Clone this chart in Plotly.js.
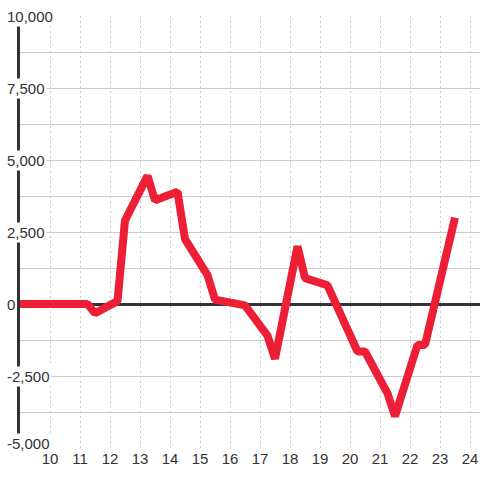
<!DOCTYPE html>
<html>
<head>
<meta charset="utf-8">
<script src="https://cdn.plot.ly/plotly-3.0.1.min.js"></script>
<style>
html,body{margin:0;padding:0;background:#fff;}
#chart{width:480px;height:480px;}
#chart .scatterlayer path.js-line{stroke-linejoin:bevel !important;stroke-linecap:butt !important;}
</style>
</head>
<body>
<div id="chart"></div>
<script>
// Data
const xValues = [9, 11.25, 11.5, 12.25, 12.5, 13.25, 13.5, 14.25, 14.5, 15.25, 15.5, 16, 16.5, 17.25, 17.5, 18.25, 18.5, 19.25, 20.25, 20.5, 21.25, 21.5, 22.25, 22.5, 23.5];
const yValues = [0, 0, -320, 100, 2900, 4450, 3600, 3900, 2250, 1000, 150, 80, -50, -1100, -1900, 2000, 900, 650, -1650, -1650, -3100, -3900, -1420, -1420, 3000];
const xTickValues = [10, 11, 12, 13, 14, 15, 16, 17, 18, 19, 20, 21, 22, 23, 24];
const xTickLabels = ["10", "11", "12", "13", "14", "15", "16", "17", "18", "19", "20", "21", "22", "23", "24"];
const yGridValues = [-5000, -3750, -2500, -1250, 0, 1250, 2500, 3750, 5000, 6250, 7500, 8750, 10000];
const yLabelValues = [10000, 7500, 5000, 2500, 0, -2500, -5000];
const yLabelTexts = ["10,000", "7,500", "5,000", "2,500", "0", "-2,500", "-5,000"];

const textColor = "#333333";
const fontFamily = "Liberation Sans, Arial, sans-serif";

const annotations = yLabelValues.map((v, i) => ({
  x: 0, xref: "paper", xanchor: "left", xshift: -15,
  y: v, yref: "y", yanchor: "middle", yshift: (v === -5000 ? 5 : 0),
  text: yLabelTexts[i], showarrow: false,
  bgcolor: "#ffffff", borderpad: 1,
  font: {family: fontFamily, size: 15, color: textColor}
}));

const trace = {
  x: xValues, y: yValues, type: "scatter", mode: "lines",
  line: {color: "#ed1f37", width: 8},
  hoverinfo: "skip"
};

const layout = {
  width: 480, height: 480,
  margin: {l: 20, r: 0, t: 16, b: 32, pad: 0},
  paper_bgcolor: "#ffffff", plot_bgcolor: "#ffffff",
  showlegend: false,
  xaxis: {
    range: [9, 24.3333], tickvals: xTickValues, ticktext: xTickLabels,
    showgrid: true, gridcolor: "#cccccc", griddash: "2px,3px", gridwidth: 1,
    zeroline: false, showline: false, ticks: "",
    tickfont: {family: fontFamily, size: 15, color: textColor},
    fixedrange: true
  },
  yaxis: {
    range: [-5000, 10000], tickvals: yGridValues, showticklabels: false,
    showgrid: true, gridcolor: "#cccccc", gridwidth: 1,
    zeroline: true, zerolinecolor: "#333333", zerolinewidth: 3,
    showline: true, linecolor: "#333333", linewidth: 3, mirror: false,
    layer: "below traces", ticks: "",
    fixedrange: true
  },
  annotations: annotations
};

Plotly.newPlot("chart", [trace], layout, {displayModeBar: false, staticPlot: true});
</script>
</body>
</html>
